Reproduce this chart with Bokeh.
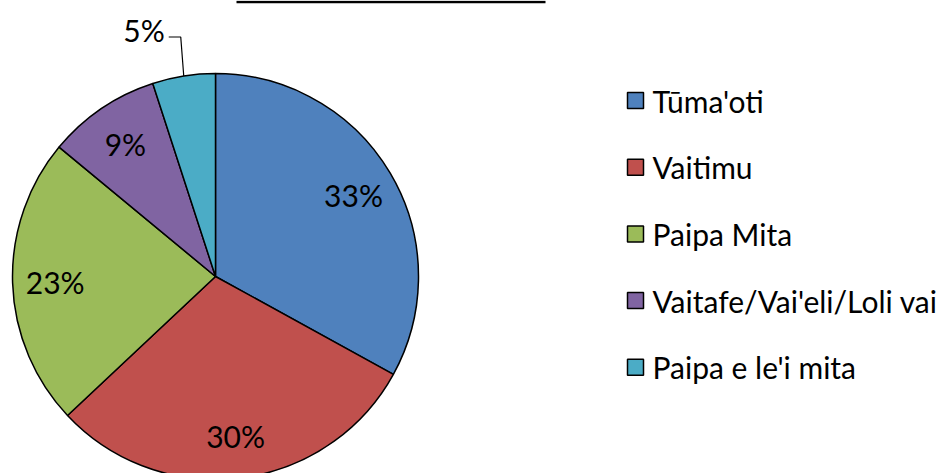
import math
from bokeh.plotting import figure
from bokeh.models import Range1d, ColumnDataSource
from bokeh.core.properties import value
from bokeh.embed import file_html
from bokeh.resources import INLINE

# ---- data ----
categories = ["Tūma'oti", "Vaitimu", "Paipa Mita", "Vaitafe/Vai'eli/Loli vai", "Paipa e le'i mita"]
percents = [33, 30, 23, 9, 5]
colors = ["#4F81BD", "#C0504D", "#9BBB59", "#8064A2", "#4BACC6"]

# ---- layout (image pixel coords; data y = IMG_H - image y) ----
W, H = 941, 473
IMG_H = 473
FONT = "Lato"
FS = "30px"

def Y(yimg):
    return IMG_H - yimg

p = figure(width=W, height=H, output_backend="svg", toolbar_location=None,
           x_range=Range1d(0, W), y_range=Range1d(IMG_H - H, IMG_H),
           min_border=0, outline_line_color=None)
p.axis.visible = False
p.grid.visible = False
p.background_fill_color = "white"
p.border_fill_color = "white"

cx, cy, r = 215, Y(276), 203
total = float(sum(percents))
starts, ends, mids = [], [], []
cum = 0.0
for v in percents:
    a0 = cum / total
    cum += v
    a1 = cum / total
    starts.append(math.pi / 2 - 2 * math.pi * a0)
    ends.append(math.pi / 2 - 2 * math.pi * a1)
    mids.append(math.pi / 2 - 2 * math.pi * (a0 + a1) / 2)

src = ColumnDataSource(dict(start=starts, end=ends, color=colors, cat=categories))
p.wedge(x=cx, y=cy, radius=r, start_angle="start", end_angle="end", direction="clock",
        fill_color="color", line_color="black", line_width=1.5, source=src)

# ---- data labels ----
lab_x, lab_y, lab_t = [], [], []
for v, m in zip(percents[:-1], mids[:-1]):
    lab_x.append(cx + 0.79 * r * math.cos(m))
    lab_y.append(cy + 0.79 * r * math.sin(m))
    lab_t.append(f"{v}%")
p.text(x=lab_x, y=lab_y, text=lab_t, text_align="center", text_baseline="middle",
       text_font=value(FONT), text_font_size=FS, text_color="black")

# outside label with leader line for the smallest slice
m = mids[-1]
ex, ey = cx + r * math.cos(m), cy + r * math.sin(m)
elbow_x, elbow_y = ex - 3, ey + 39
p.line(x=[ex, elbow_x, elbow_x - 12], y=[ey, elbow_y, elbow_y], line_color="black", line_width=1.2)
p.text(x=[elbow_x - 16], y=[elbow_y + 7], text=[f"{percents[-1]}%"], text_align="right",
       text_baseline="middle", text_font=value(FONT), text_font_size=FS, text_color="black")

# ---- legend ----
row0, row_step = 100, 66.7
lx = [635] * len(categories)
ly = [Y(row0 + i * row_step) for i in range(len(categories))]
p.rect(x=lx, y=ly, width=16, height=16, width_units="screen", height_units="screen",
       fill_color=colors, line_color="black", line_width=1.5)
p.text(x=[652] * len(categories), y=ly, text=categories, text_align="left",
       text_baseline="middle", text_font=value(FONT), text_font_size=FS, text_color="black")

# title underline (title text itself lies above the visible area)
p.line(x=[236, 545], y=[Y(1.5), Y(1.5)], line_color="black", line_width=2.5)

open("out.html", "w").write(file_html(p, INLINE))
